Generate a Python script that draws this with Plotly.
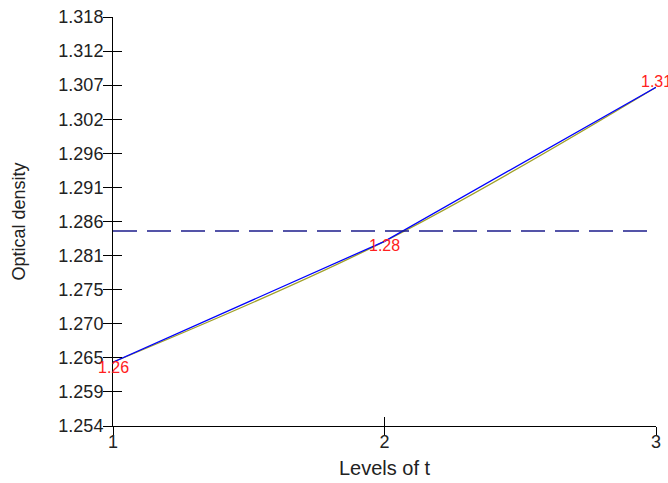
import plotly.graph_objects as go

levels = [1, 2, 3]
means = [1.2640, 1.2829, 1.3070]
labels = ["1.26", "1.28", "1.31"]
grand_mean = 1.2845
ytick_vals = [round(1.254 + i * 0.064 / 12, 6) for i in range(13)]
ytick_text = ["1.254", "1.259", "1.265", "1.270", "1.275", "1.281", "1.286",
              "1.291", "1.296", "1.302", "1.307", "1.312", "1.318"]
label_yshift = [-5, -4, 6]

font_family = "Liberation Sans, Arial, sans-serif"
fig = go.Figure()

fig.add_trace(go.Scatter(x=levels, y=means, mode="lines", line=dict(color="#a0a028", width=1.3, shape="spline"),
                         showlegend=False, hoverinfo="skip"))
fig.add_trace(go.Scatter(x=levels, y=means, mode="lines", line=dict(color="#0000ff", width=1.3),
                         showlegend=False))
fig.add_trace(go.Scatter(x=[levels[0], levels[-1]], y=[grand_mean, grand_mean], mode="lines",
                         line=dict(color="#1c1c8c", width=1.5, dash="24px,10px"), showlegend=False))
# overlay axes for crossing ticks
fig.add_trace(go.Scatter(x=[], y=[], xaxis="x2", yaxis="y2", showlegend=False))

for xv, yv, t, sy in zip(levels, means, labels, label_yshift):
    fig.add_annotation(x=xv, y=yv, text=t, showarrow=False, yshift=sy,
                       xanchor="center", yanchor="middle",
                       font=dict(color="#ff2020", size=16, family=font_family))

axis_common = dict(showgrid=False, zeroline=False, showline=True, linecolor="#000000", linewidth=1,
                   tickcolor="#000000", ticklen=9, tickwidth=1, automargin=False)
fig.update_layout(
    width=668, height=483,
    margin=dict(l=113, r=12, t=17, b=57, autoexpand=False),
    paper_bgcolor="white", plot_bgcolor="white",
    font=dict(family=font_family, size=18, color="#222222"),
    xaxis=dict(range=[1, 3], tickvals=levels, ticktext=["1", "2", "3"], ticks="outside",
               tickfont=dict(size=18), ticklabelstandoff=-10, ticklabeloverflow="allow",
               title=dict(text="Levels of t", font=dict(size=20), standoff=10), **axis_common),
    yaxis=dict(range=[1.254, 1.318], tickvals=ytick_vals, ticktext=ytick_text, ticks="outside",
               tickfont=dict(size=18), ticklabelstandoff=-4, ticklabeloverflow="allow",
               title=dict(text="Optical density", font=dict(size=18), standoff=28), **axis_common),
    xaxis2=dict(range=[1, 3], tickvals=levels, ticks="inside", showticklabels=False, overlaying="x",
                side="bottom", anchor="y", **axis_common),
    yaxis2=dict(range=[1.254, 1.318], tickvals=ytick_vals, ticks="inside", showticklabels=False,
                overlaying="y", side="left", anchor="x", **axis_common),
)

fig.write_html("out.html", config={"displayModeBar": False},
               post_script="document.body.style.margin='0';document.body.style.overflow='hidden';")
